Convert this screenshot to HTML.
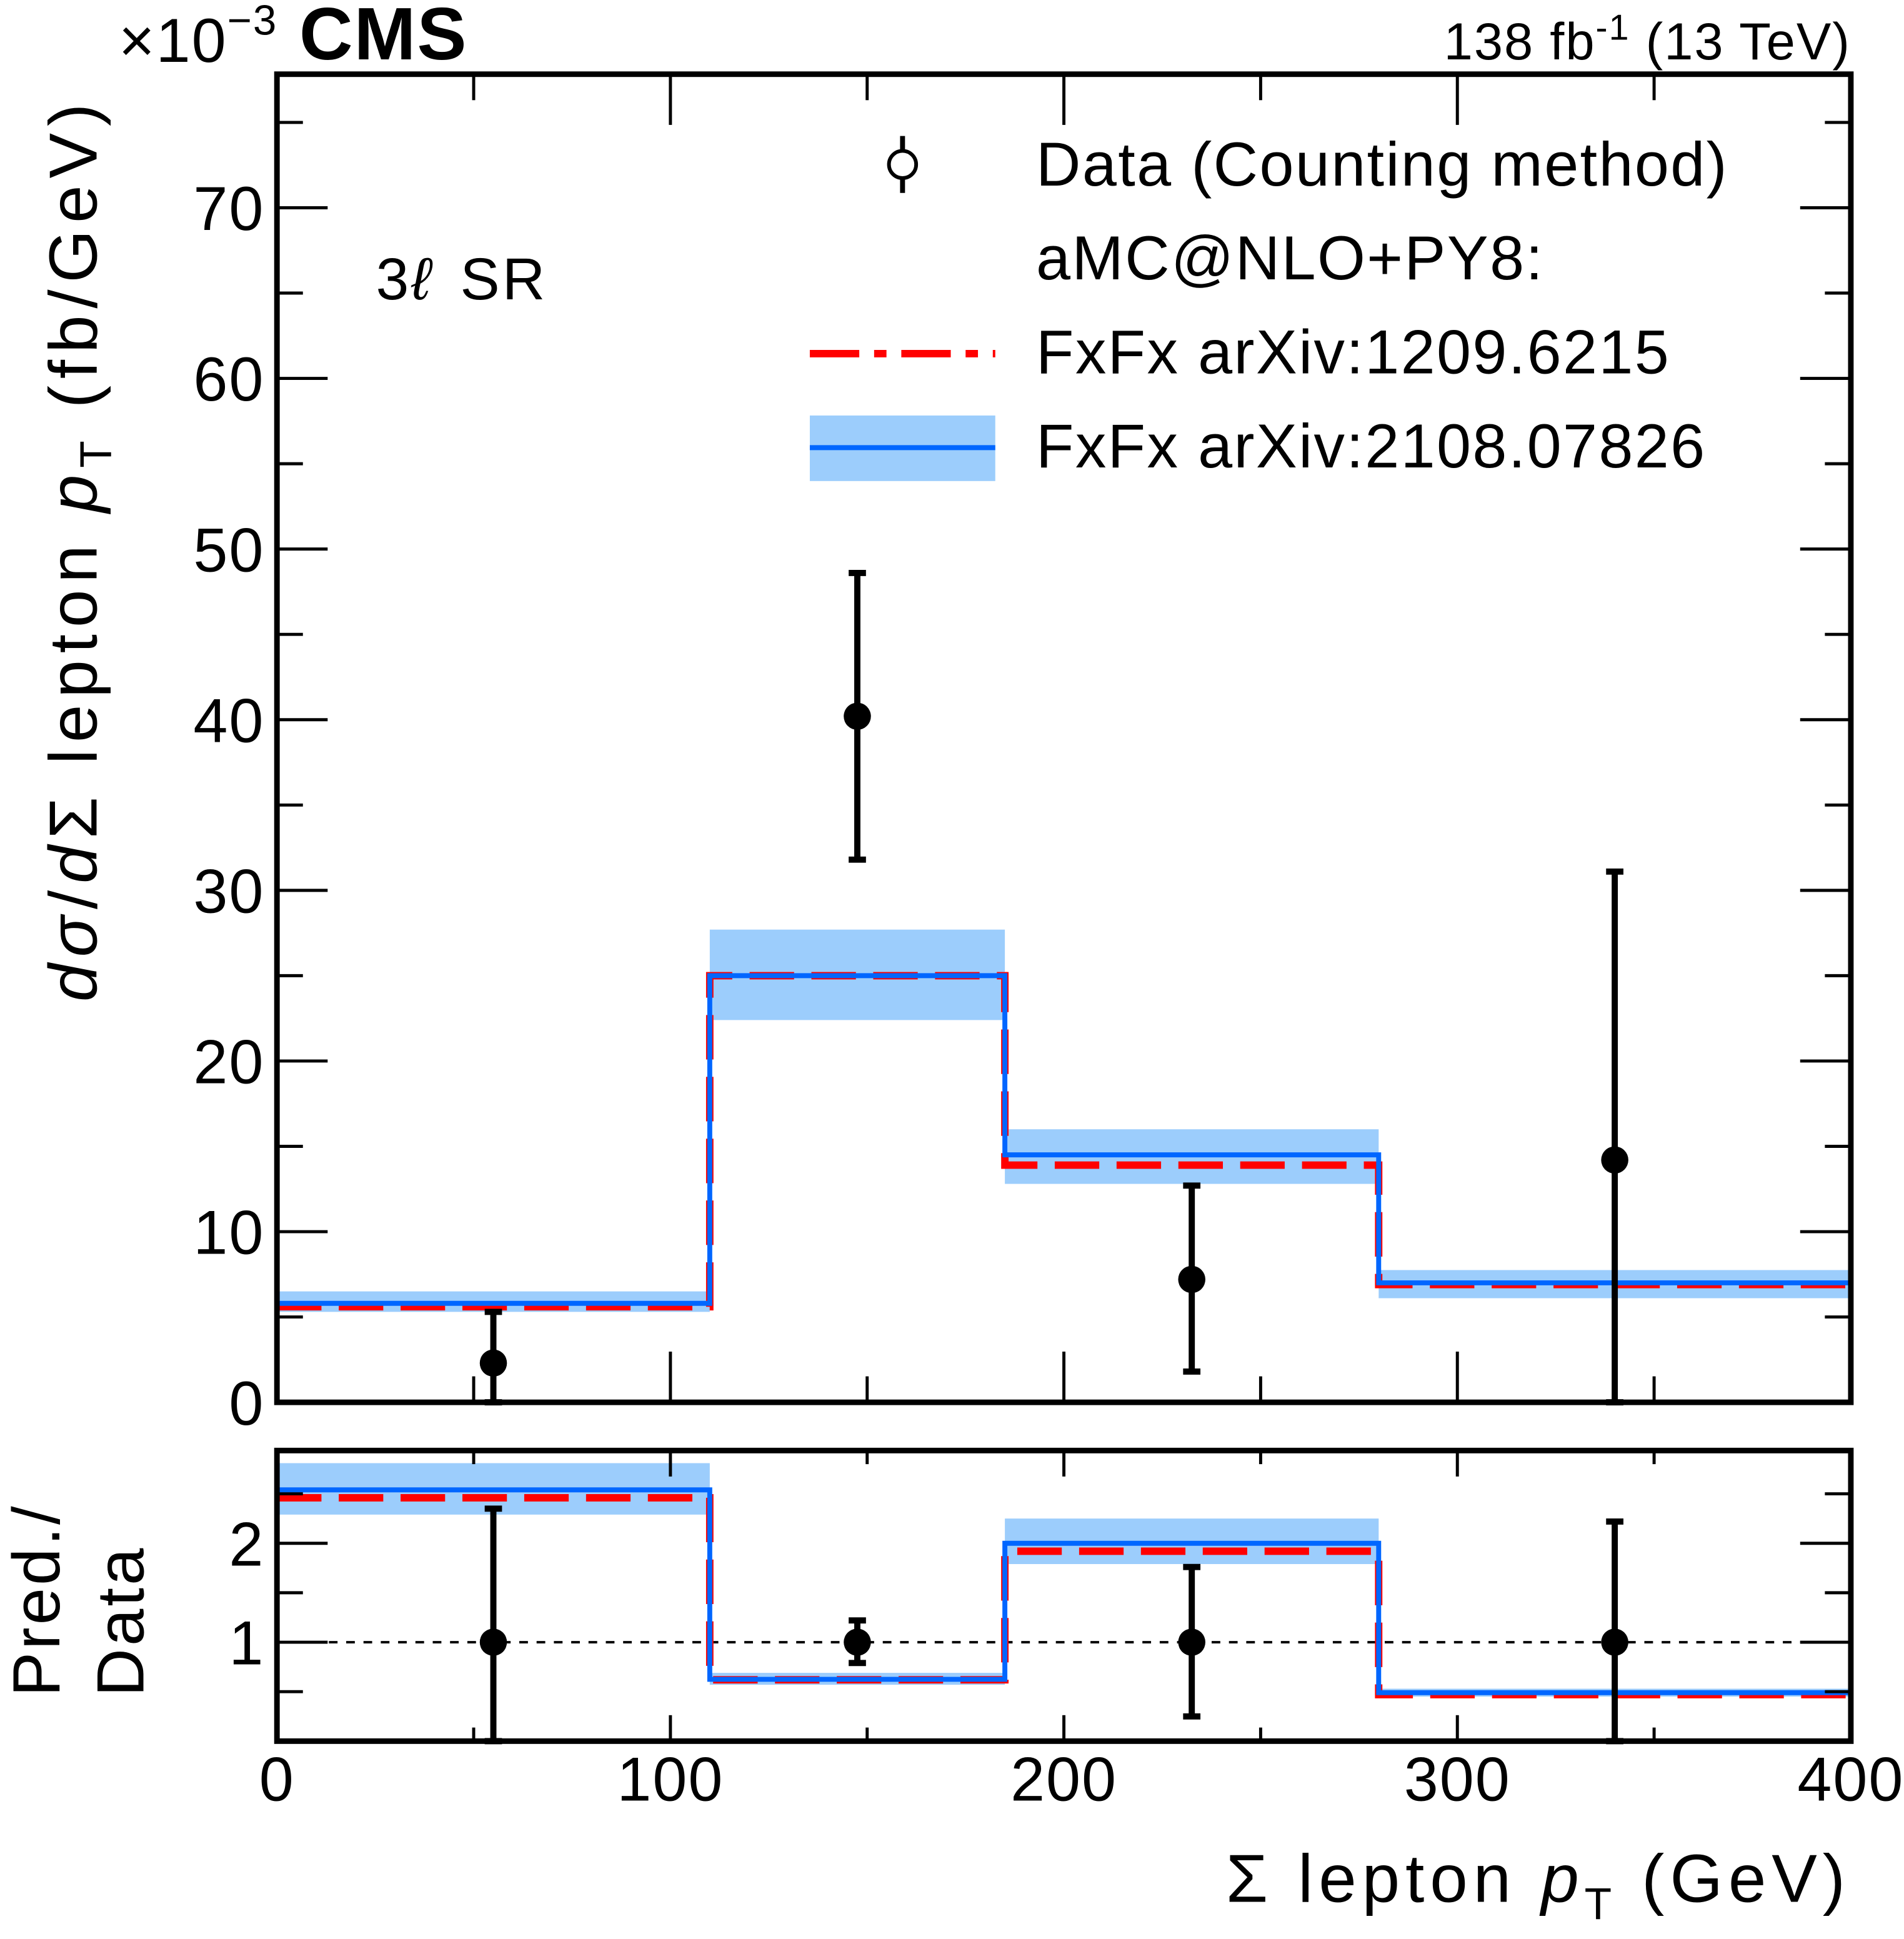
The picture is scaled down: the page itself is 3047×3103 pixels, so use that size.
<!DOCTYPE html>
<html><head><meta charset="utf-8"><style>
html,body{margin:0;padding:0;background:#fff}
svg{display:block}
text{font-family:"Liberation Sans",sans-serif;fill:#000}
</style></head><body>
<svg id="chart" width="3047" height="3103" viewBox="0 0 1540 1568" preserveAspectRatio="none" xmlns="http://www.w3.org/2000/svg">
<g id="main"></g>
<g id="ratio"></g>
<text x="96" y="50" font-size="50" letter-spacing="1">×10<tspan dy="-22" font-size="34">−3</tspan></text>
<text x="242" y="48" font-size="60" font-weight="bold" letter-spacing="1">CMS</text>
<text x="1497" y="48" font-size="42" letter-spacing="1" text-anchor="end">138 fb<tspan dy="-16" font-size="29">-1</tspan><tspan dy="16"> (13 TeV)</tspan></text>
<text x="304" y="242" font-size="48" letter-spacing="2">3<tspan font-style="italic">ℓ</tspan><tspan dx="22">SR</tspan></text>
<text transform="translate(78,810) rotate(-90)" font-size="55" letter-spacing="5.5"><tspan font-style="italic">dσ</tspan>/<tspan font-style="italic">d</tspan>Σ lepton <tspan font-style="italic">p</tspan><tspan font-size="36" dy="12">T</tspan><tspan dy="-12"> (fb/GeV)</tspan></text>
<text transform="translate(48,1372) rotate(-90)" font-size="54" letter-spacing="2">Pred./</text>
<text transform="translate(116,1372) rotate(-90)" font-size="54" letter-spacing="2">Data</text>
<text x="1497" y="1538" font-size="55" letter-spacing="4.5" text-anchor="end">Σ lepton <tspan font-style="italic">p</tspan><tspan font-size="36" dy="14">T</tspan><tspan dy="-14"> (GeV)</tspan></text>
<g>
<line x1="730" y1="110" x2="730" y2="156" stroke="#000" stroke-width="4"/>
<circle cx="730" cy="133" r="11" fill="#fff" stroke="#000" stroke-width="3"/>
<text x="838" y="150" font-size="50" letter-spacing="1.2">Data (Counting method)</text>
<text x="838" y="226" font-size="50" letter-spacing="1.2">aMC@NLO+PY8:</text>
<line x1="655" y1="286" x2="805" y2="286" stroke="#f00" stroke-width="6" stroke-dasharray="40,12,10,12"/>
<text x="838" y="302" font-size="50" letter-spacing="1.2">FxFx arXiv:1209.6215</text>
<rect x="655" y="336" width="150" height="53" fill="#9ccdfc"/>
<line x1="655" y1="362" x2="805" y2="362" stroke="#0066ff" stroke-width="4"/>
<text x="838" y="378" font-size="50" letter-spacing="1.2">FxFx arXiv:2108.07826</text>
</g>
</svg>
<script>
const binEdges=[0,110,185,280,400];
const dataX=[55,147.5,232.5,340];
const dataY=[2.3,40.2,7.2,14.2];
const dataLo=[0,31.8,1.8,0];
const dataHi=[5.3,48.6,12.7,31.1];
const blueY=[5.8,25.0,14.5,7.0];
const blueLo=[5.3,22.4,12.8,6.1];
const blueHi=[6.5,27.7,16.0,7.75];
const redY=[5.6,25.0,13.9,6.9];
const ratioBlue=[2.54,0.625,2.0,0.49];
const ratioBlueLo=[2.29,0.57,1.79,0.45];
const ratioBlueHi=[2.81,0.69,2.25,0.53];
const ratioRed=[2.46,0.62,1.92,0.47];
const ratioData=[1,1,1,1];
const ratioDataLo=[0,0.79,0.25,0];
const ratioDataHi=[2.35,1.22,1.76,2.22];
const xTicks=[0,100,200,300,400];
const yTicks=[0,10,20,30,40,50,60,70];
const rTicks=[1,2];

const NS="http://www.w3.org/2000/svg";
const L=224,R=1497;
const X=v=>L+(v-0)/(400-0)*(R-L);
const MT=60,MB=1134, Y=v=>MB-v*(MB-168)/70;
const RT=1173,RB=1408, RY=v=>RB-v*(RB-1328);
function mk(p,t,a){const e=document.createElementNS(NS,t);for(const k in a)e.setAttribute(k,a[k]);p.appendChild(e);return e;}
function panel(g,top,bot,yf,majors,minors,labels,prefix,loV,hiV,yv,redV,dx,dy,dlo,dhi){
  const cid=prefix+'clip';
  const cp=mk(g,'clipPath',{id:cid});mk(cp,'rect',{x:L,y:top,width:R-L,height:bot-top});
  const inner=mk(g,'g',{'clip-path':'url(#'+cid+')'});
  for(let i=0;i<yv.length;i++){
    const r=mk(inner,'rect',{x:X(binEdges[i]),y:yf(hiV[i]),width:X(binEdges[i+1])-X(binEdges[i]),height:yf(loV[i])-yf(hiV[i]),fill:'#9ccdfc'});
    
    
  }
  if(prefix==='ratio-'){const l=mk(inner,'line',{x1:L,x2:R,y1:yf(1),y2:yf(1),stroke:'#000','stroke-width':2,'stroke-dasharray':'7,7'});
    
    }
  function step(vals){let d='';for(let i=0;i<vals.length;i++){d+=(i?'L':'M')+X(binEdges[i])+','+yf(vals[i])+'L'+X(binEdges[i+1])+','+yf(vals[i]);}return d;}
  const rr=mk(inner,'path',{d:step(redV),fill:'none',stroke:'#f00','stroke-width':6,'stroke-dasharray':'36,14'});
  
  
  const b=mk(inner,'path',{d:step(yv),fill:'none',stroke:'#0066ff','stroke-width':4});
  
  
  for(let i=0;i<dx.length;i++){
    const eg=mk(g,'g',{});
    
    
    mk(eg,'line',{x1:X(dx[i]),x2:X(dx[i]),y1:yf(dlo[i]),y2:yf(dhi[i]),stroke:'#000','stroke-width':5});
    mk(eg,'line',{x1:X(dx[i])-7,x2:X(dx[i])+7,y1:yf(dlo[i]),y2:yf(dlo[i]),stroke:'#000','stroke-width':5});
    mk(eg,'line',{x1:X(dx[i])-7,x2:X(dx[i])+7,y1:yf(dhi[i]),y2:yf(dhi[i]),stroke:'#000','stroke-width':5});
    mk(eg,'circle',{cx:X(dx[i]),cy:yf(dy[i]),r:11,fill:'#000'});
  }
  const tg=mk(g,'g',{stroke:'#000','stroke-width':2.5});
  majors.forEach(v=>{mk(tg,'line',{x1:L,x2:L+41,y1:yf(v),y2:yf(v)});mk(tg,'line',{x1:R,x2:R-41,y1:yf(v),y2:yf(v)});});
  minors.forEach(v=>{mk(tg,'line',{x1:L,x2:L+21,y1:yf(v),y2:yf(v)});mk(tg,'line',{x1:R,x2:R-21,y1:yf(v),y2:yf(v)});});
  const xl=(bot-top)>500?41:21, xs=(bot-top)>500?21:11;
  for(let v=0;v<=400;v+=50){const len=v%100===0?xl:xs;mk(tg,'line',{x1:X(v),x2:X(v),y1:bot,y2:bot-len});mk(tg,'line',{x1:X(v),x2:X(v),y1:top,y2:top+len});}
  labels.forEach(v=>{const t=mk(g,'text',{x:L-10,y:yf(v)+18,'font-size':50,'letter-spacing':1,'text-anchor':'end'});t.textContent=v;
    
    });
  const f=mk(g,'rect',{x:L,y:top,width:R-L,height:bot-top,fill:'none',stroke:'#000','stroke-width':4.5});
  
  
}
const mainMinors=[];for(let v=5;v<=75;v+=10)mainMinors.push(v);
panel(document.getElementById('main'),MT,MB,Y,yTicks,mainMinors,yTicks,'main-',blueLo,blueHi,blueY,redY,dataX,dataY,dataLo,dataHi);
panel(document.getElementById('ratio'),RT,RB,RY,rTicks,[0.5,1.5,2.5],rTicks,'ratio-',ratioBlueLo,ratioBlueHi,ratioBlue,ratioRed,dataX,ratioData,ratioDataLo,ratioDataHi);
xTicks.forEach(v=>{const t=document.createElementNS(NS,'text');
  t.setAttribute('x',X(v));t.setAttribute('y',1456);t.setAttribute('font-size',50);t.setAttribute('letter-spacing',1);t.setAttribute('text-anchor','middle');
  t.textContent=v;
  
  
  document.getElementById('chart').appendChild(t);});
</script>
</body></html>
